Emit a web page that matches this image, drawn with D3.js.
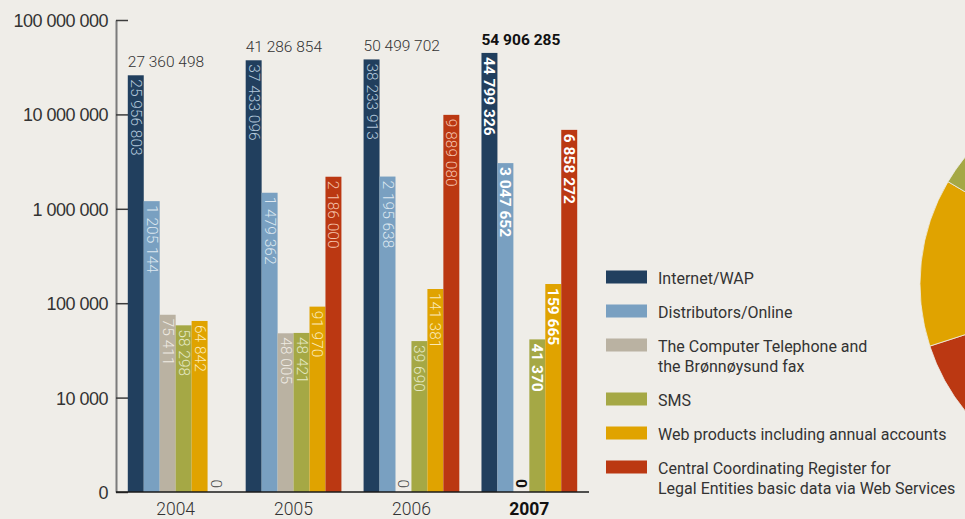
<!DOCTYPE html>
<html>
<head>
<meta charset="utf-8">
<script src="https://cdn.jsdelivr.net/npm/d3@7/dist/d3.min.js"></script>
<style>
  html, body { margin: 0; padding: 0; background: #efede8; }
  svg { display: block; font-family: Roboto, "Noto Sans", sans-serif; }
</style>
</head>
<body>
<svg id="chart" width="965" height="519"></svg>
<script>
// Transactions per channel, 2004–2007
const years = ["2004", "2005", "2006", "2007"];
const channels = [
  "Internet/WAP",
  "Distributors/Online",
  "The Computer Telephone and|the Brønnøysund fax",
  "SMS",
  "Web products including annual accounts",
  "Central Coordinating Register for|Legal Entities basic data via Web Services"
];
const internetWap   = [25956803, 37433096, 38233913, 44799326];
const distributors  = [1205144, 1479362, 2195638, 3047652];
const computerPhone = [75411, 48005, 0, 0];
const sms           = [58298, 48421, 39690, 41370];
const webProducts   = [64842, 91970, 141381, 159665];
const centralReg    = [0, 2186000, 9889080, 6858272];
const totals        = [27360498, 41286854, 50499702, 54906285];
const tickValues    = [1000, 10000, 100000, 1000000, 10000000, 100000000];

// Share of each channel in the round chart at the right edge (percent)
const pieNames  = ["Internet/WAP", "Distributors/Online", "Central Coordinating Register", "Web products", "SMS"];
const pieShares = [46, 12, 12, 13.5, 16.5];

const colors      = ["#213f5e", "#79a0c1", "#bab2a2", "#a5a845", "#e0a300", "#bb3812"];
const labelColors = ["#b3c7db", "#dce7f0", "#efebe2", "#e6e9c4", "#fbe9b5", "#f4c2ab"];
const pieColors   = ["#213f5e", "#79a0c1", "#bb3812", "#e0a300", "#a5a845"];

const series = [internetWap, distributors, computerPhone, sms, webProducts, centralReg];

const svg = d3.select("#chart");
const fmt = d3.formatLocale({ thousands: " ", grouping: [3], decimal: "," }).format(",d");

// Round chart, mostly outside the frame
const pieGen = d3.pie().sort(null).value(d => d);
const arcGen = d3.arc().innerRadius(0).outerRadius(201);
svg.append("g")
  .attr("transform", "translate(1121,284)")
  .selectAll("path")
  .data(pieGen(pieShares))
  .join("path")
  .attr("d", arcGen)
  .attr("fill", (d, i) => pieColors[i])
  .attr("stroke", "#efede8")
  .attr("stroke-width", 0.8);

// Scales: logarithmic, with the bottom decade shown as 0
const y = d3.scaleLog().domain([1000, 100000000]).range([492, 20]);
const x0 = d3.scaleBand().domain(years).range([116, 589]).paddingInner(0.188).paddingOuter(0.1);
const x1 = d3.scaleBand().domain(d3.range(channels.length)).range([0, x0.bandwidth()]);

// Y axis
const yAxis = d3.axisLeft(y)
  .tickValues(tickValues)
  .tickFormat(v => v === 1000 ? "0" : fmt(v))
  .tickSizeInner(-12)
  .tickSizeOuter(0)
  .tickPadding(8);
const gy = svg.append("g").attr("transform", "translate(116,0)").call(yAxis);
gy.select(".domain").attr("stroke", "#7b7b7b").attr("stroke-width", 2);
gy.selectAll(".tick line").attr("stroke", "#3c3c3c").attr("stroke-width", 1.5);
gy.selectAll(".tick text")
  .attr("fill", "#333")
  .attr("font-size", 18)
  .attr("font-weight", 300)
  .attr("letter-spacing", -0.5)
  .attr("dy", "0.36em");

// Bars
const yMin = 1000;
const groups = svg.append("g").selectAll("g")
  .data(years)
  .join("g")
  .attr("transform", d => `translate(${x0(d)},0)`);

groups.each(function (yr, yi) {
  const g = d3.select(this);
  const bold = yi === years.length - 1;
  series.forEach((vals, ci) => {
    const v = vals[yi];
    const top = v > 0 ? y(Math.max(v, yMin)) : y(yMin);
    const bx = x1(ci);
    const bw = x1.bandwidth();
    g.append("rect")
      .attr("x", bx)
      .attr("y", top)
      .attr("width", bw)
      .attr("height", y(yMin) - top)
      .attr("fill", colors[ci]);
    const cx = bx + bw / 2;
    const lbl = g.append("text")
      .attr("font-size", 15.5)
      .attr("font-weight", bold ? 700 : 300)
      .attr("dominant-baseline", "central")
      .text(fmt(v));
    if (v > 0) {
      lbl.attr("transform", `translate(${cx},${top + 4}) rotate(90)`)
        .attr("text-anchor", "start")
        .attr("fill", bold ? "#ffffff" : labelColors[ci]);
    } else {
      lbl.attr("transform", `translate(${cx},${y(yMin) - 4}) rotate(90)`)
        .attr("text-anchor", "end")
        .attr("fill", bold ? "#111" : "#444");
    }
  });

  // Total above each year
  const maxVal = d3.max(series, s => s[yi]);
  g.append("text")
    .attr("x", 0)
    .attr("y", y(maxVal) - 8)
    .attr("font-size", 15.5)
    .attr("font-weight", bold ? 700 : 300)
    .attr("fill", bold ? "#111" : "#333")
    .text(fmt(totals[yi]));

  // Year label
  g.append("text")
    .attr("x", x0.bandwidth() / 2)
    .attr("y", 515)
    .attr("text-anchor", "middle")
    .attr("font-size", 17.5)
    .attr("font-weight", bold ? 700 : 300)
    .attr("fill", bold ? "#111" : "#333")
    .text(yr);
});

// Baseline
svg.append("line")
  .attr("x1", 116).attr("x2", 589)
  .attr("y1", y(yMin)).attr("y2", y(yMin))
  .attr("stroke", "#1a1a1a").attr("stroke-width", 1.5);

// Legend
const legendY = [277, 311, 345, 399, 433, 467];
const legend = svg.append("g");
channels.forEach((name, i) => {
  legend.append("rect")
    .attr("x", 606).attr("y", legendY[i] - 6.5)
    .attr("width", 41).attr("height", 13)
    .attr("fill", colors[i]);
  const t = legend.append("text")
    .attr("x", 658)
    .attr("y", legendY[i] + 6.5)
    .attr("font-size", 16)
    .attr("font-weight", 400)
    .attr("fill", "#333");
  name.split("|").forEach((line, li) => {
    t.append("tspan").attr("x", 658).attr("dy", li === 0 ? 0 : 20).text(line);
  });
});
</script>
</body>
</html>
